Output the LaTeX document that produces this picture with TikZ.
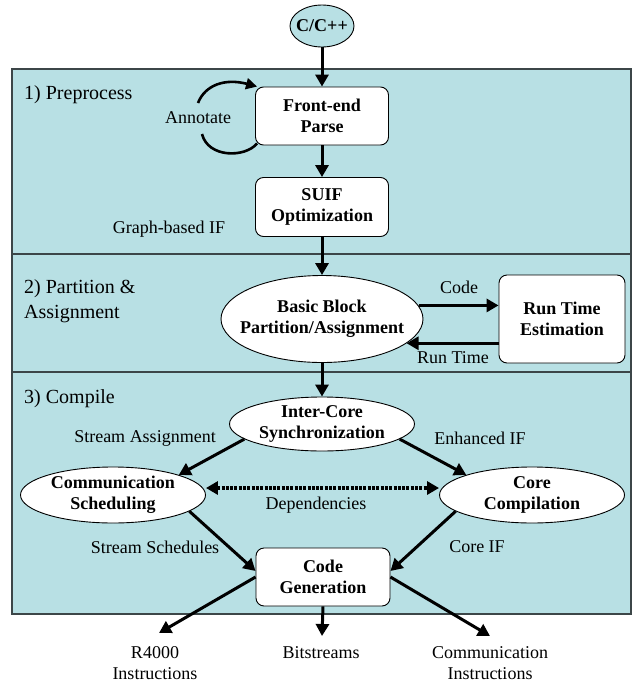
\documentclass[tikz,border=0pt]{standalone}
\usepackage{fontspec}
\setmainfont{Liberation Serif}
\usetikzlibrary{arrows.meta,shapes.geometric,calc}
\definecolor{panelfill}{RGB}{184,224,228}
\definecolor{panelline}{RGB}{60,70,72}
\begin{document}
\begin{tikzpicture}[x=1pt,y=-1pt,
  every node/.style={font=\fontsize{18}{21}\selectfont, align=center, inner sep=0pt},
  box/.style={draw=black, line width=0.9pt, fill=white, rounded corners=8pt, minimum width=133pt, minimum height=58pt, font=\fontsize{18}{21}\selectfont\bfseries},
  oval/.style={ellipse, draw=black, line width=0.9pt, fill=white, minimum width=185pt, minimum height=56pt, font=\fontsize{18}{21}\selectfont\bfseries},
  flow/.style={line width=3pt, -{Triangle[length=12pt,width=13pt]}},
  dots/.style={line width=3.2pt, dash pattern=on 3pt off 1.3pt, {Triangle[length=12pt,width=13pt]}-{Triangle[length=12pt,width=13pt]}},
  loopline/.style={line width=2.6pt},
  panel/.style={draw=panelline, line width=1.1pt, fill=panelfill},
  lab/.style={font=\fontsize{18}{21}\selectfont},
  title/.style={font=\fontsize{20}{25}\selectfont, anchor=west, align=left},
]
\useasboundingbox (0,0) rectangle (633,686);

% panels
\path[panel] (12,69) rectangle (631,254);
\path[panel] (12,254) rectangle (631,372);
\path[panel] (12,372) rectangle (631,614);
\draw[panelline, line width=1.8pt] (631,70) -- (631,614.5) -- (13,614.5);

\node[title] (t1) at (24,95) {1) Preprocess};
\node[title] (t2) at (24,301) {2) Partition \&\\Assignment};
\node[title] (t3) at (24,399) {3) Compile};

% nodes
\node[ellipse, draw=black, line width=0.9pt, fill=panelfill, minimum width=64pt, minimum height=42pt, inner xsep=-5pt, font=\fontsize{18}{21}\selectfont\bfseries] (cc) at (322,26) {C/C++};
\node[box] (fe) at (322,116) {Front-end\\Parse};
\node[box, minimum height=59pt] (suif) at (322,207) {SUIF\\Optimization};
\node[oval, minimum width=202pt, minimum height=87pt, inner xsep=-11pt] (bb) at (322,319) {Basic Block\\Partition/Assignment};
\node[box, minimum width=126pt, minimum height=88pt] (rte) at (562,319) {Run Time\\Estimation};
\node[oval, minimum height=54pt] (ic) at (322,424) {Inter-Core\\Synchronization};
\node[oval] (cs) at (113,495) {Communication\\Scheduling};
\node[oval] (core) at (532,495) {Core\\Compilation};
\node[box, minimum width=134pt] (cg) at (323,577) {Code\\Generation};

% outputs
\node (r4) at (155,663) {R4000\\Instructions};
\node (bs) at (321,653) {Bitstreams};
\node (ci) at (490,663) {Communication\\Instructions};
\coordinate (r4in) at (159,633);
\coordinate (bsin) at (322,636);
\coordinate (ciin) at (490,636);

% labels
\node[lab] (lann) at (198,118) {Annotate};
\node[lab] (lgif) at (169,229) {Graph-based IF};
\node[lab] (lcode) at (459,287) {Code};
\node[lab] (lrt) at (453,358) {Run Time};
\node[lab] (lsa) at (145,438) {Stream Assignment};
\node[lab] (leif) at (480,438) {Enhanced IF};
\node[lab] (ldep) at (316,505) {Dependencies};
\node[lab] (lss) at (155,547) {Stream Schedules};
\node[lab] (lcif) at (477,547) {Core IF};

% annotate loop
\coordinate (annA) at (198,103);
\coordinate (annB) at (202,134);
\draw[loopline, -{Triangle[length=11pt,width=11pt]}] (annA) .. controls (205,85) and (225,78) .. ([xshift=2pt]fe.north west);
\draw[loopline] (annB) .. controls (208,158) and (245,158) .. ([xshift=2pt,yshift=2pt]fe.south west);

% connectors
\draw[flow] (cc.south) -- (fe.north);
\draw[flow] (fe.south) -- (suif.north);
\draw[flow] (suif.south) -- (bb.north);
\draw[flow] (bb.8) -- (bb.8 -| rte.west);
\draw[flow] (bb.-16 -| rte.west) -- (bb.-16);
\draw[flow] (bb.south) -- (ic.north);
\draw[flow] (ic.191) -- (cs.17);
\draw[flow] (ic.349) -- (core.163);
\draw[dots] ([yshift=7pt]cs.east) -- ([yshift=7pt]core.west);
\draw[flow] (cs.-12) -- ([yshift=6pt]cg.west);
\draw[flow] (core.192) -- ([yshift=6pt]cg.east);
\draw[flow] (cg.west) -- (r4in);
\draw[flow] (cg.south) -- (bsin);
\draw[flow] (cg.east) -- (ciin);
\end{tikzpicture}
\end{document}
